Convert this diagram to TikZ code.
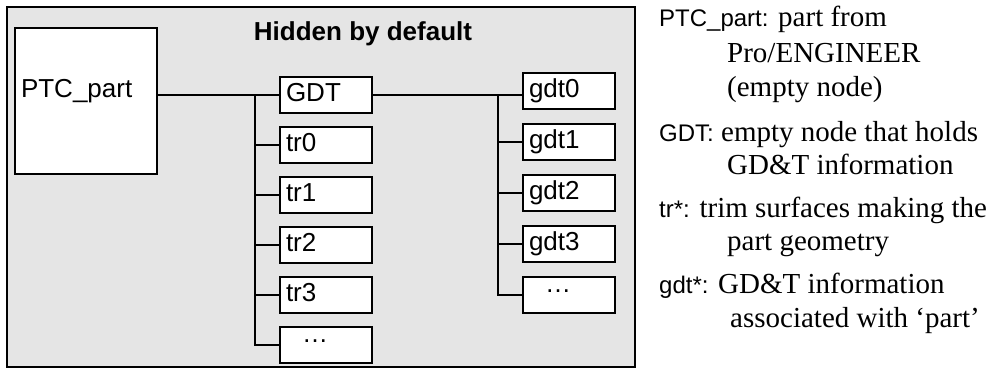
\documentclass[tikz,border=0pt]{standalone}
\usepackage{fontspec}
\setmainfont{Liberation Serif}
\setsansfont{Liberation Sans}
\usetikzlibrary{positioning}
\definecolor{hiddengray}{HTML}{E5E5E5}
\newcommand{\keylabel}[1]{{\sffamily\fontsize{24}{28}\selectfont #1}}
\newcommand{\moredots}{\hspace*{16pt}\raisebox{9pt}{\dots}}
\tikzset{
  treebox/.style={draw, line width=2.5pt, fill=white, minimum width=92pt, minimum height=36pt,
    text width=80pt, align=left, inner xsep=6pt, inner ysep=2pt, outer sep=0pt,
    text height=19pt, text depth=7pt, font=\sffamily\fontsize{26}{30}\selectfont},
  tree/.style={line width=2.5pt},
  keyline/.style={anchor=base west, inner sep=0pt, font=\fontsize{29}{34}\selectfont},
}
\begin{document}
\begin{tikzpicture}[x=1pt,y=-1pt]
    \useasboundingbox (0,0) rectangle (993,369);

    % hidden region
    \draw[line width=2pt, fill=hiddengray] (7,7) rectangle (635,367);
    \node[anchor=base, font=\sffamily\bfseries\fontsize{26}{30}\selectfont] (hidlabel) at (363,41) {Hidden by default};

    % part
    \node[treebox, minimum width=142pt, minimum height=146pt, text width=130pt, text depth=27pt] (ptc) at (86,101) {PTC\_part};

    % trim surfaces
    \node[treebox] (gdt) at (326,95) {GDT};
    \node[treebox, below=14pt of gdt] (tr0) {tr0};
    \node[treebox, below=14pt of tr0] (tr1) {tr1};
    \node[treebox, below=14pt of tr1] (tr2) {tr2};
    \node[treebox, below=14pt of tr2] (tr3) {tr3};
    \node[treebox, below=14pt of tr3] (trdots) {\moredots};

    % GD&T entries
    \node[treebox] (gdt0) at (569,91) {gdt0};
    \node[treebox, below=15pt of gdt0] (gdt1) {gdt1};
    \node[treebox, below=15pt of gdt1] (gdt2) {gdt2};
    \node[treebox, below=15pt of gdt2] (gdt3) {gdt3};
    \node[treebox, below=15pt of gdt3] (gdtdots) {\moredots};

    % connectors
    \coordinate (trunk) at ([xshift=-25pt]gdt.west);
    \path (gdt0.west |- gdt.east) ++(-25pt,0) coordinate (gtrunk);
    \draw[tree] (ptc.east |- gdt.west) -- (gdt.west);
    \draw[tree] (trunk) |- (trdots.west);
    \foreach \n in {tr0,tr1,tr2,tr3}
      \draw[tree] (trunk |- \n.west) -- (\n.west);
    \draw[tree] (gdt.east) -- (gdt0.west |- gdt.east);
    \draw[tree] (gtrunk) |- (gdtdots.west);
    \foreach \n in {gdt1,gdt2,gdt3}
      \draw[tree] (gtrunk |- \n.west) -- (\n.west);

    % key
    \node[keyline] (key1) at (659,27) {\keylabel{PTC\_part:} part from};
    \node[keyline] (key1b) at (727,63) {Pro/ENGINEER};
    \node[keyline] (key1c) at (727,96) {(empty node)};
    \node[keyline] (key2) at (659,141) {\keylabel{GDT:} empty node that holds};
    \node[keyline] (key2b) at (727,174) {GD\&T information};
    \node[keyline] (key3) at (659,217) {\keylabel{tr*:} trim surfaces making the};
    \node[keyline] (key3b) at (727,250) {part geometry};
    \node[keyline] (key4) at (659,293) {\keylabel{gdt*:} GD\&T information};
    \node[keyline] (key4b) at (730,327) {associated with `part'};
  \end{tikzpicture}
\end{document}
